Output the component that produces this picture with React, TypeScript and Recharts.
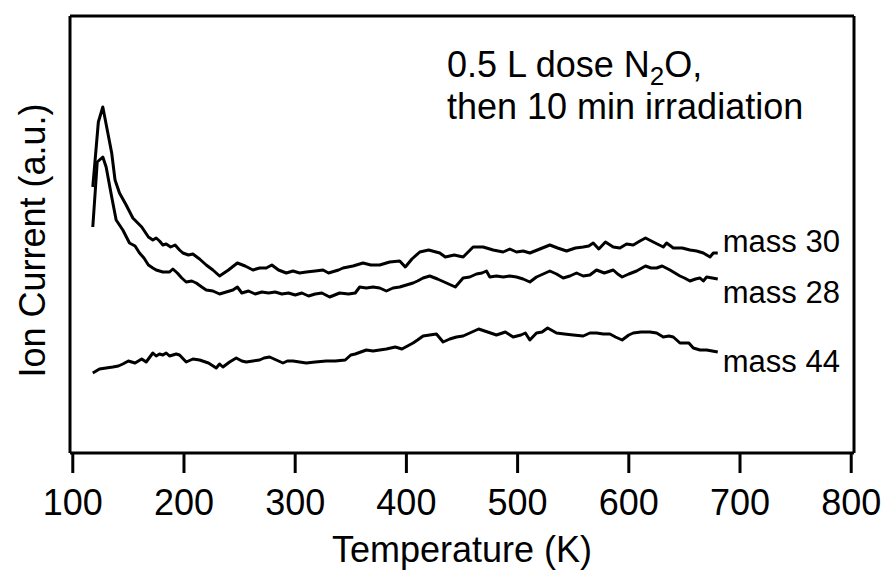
import React from "react";
import { LineChart, Line, XAxis, YAxis, Label } from "recharts";

// values (ion current in arbitrary units)
const mass30Temp = [118, 123, 127, 135, 138, 142, 148, 154, 162, 168, 172, 175, 178, 181, 184, 188, 192, 196, 199, 204, 208, 214, 220, 226, 232, 240, 248, 255, 262, 268, 274, 279, 285, 292, 298, 304, 310, 318, 325, 330, 339, 343, 352, 361, 368, 376, 385, 394, 399, 405, 412, 420, 430, 435, 443, 451, 460, 469, 478, 487, 493, 499, 505, 511, 520, 529, 536, 544, 552, 559, 564, 568, 573, 579, 586, 592, 598, 604, 610, 615, 622, 631, 634, 640, 648, 655, 661, 667, 673, 676, 680];
const mass30Ion = [26.6, 33.1, 34.6, 30.0, 27.3, 26.0, 24.8, 23.5, 22.6, 21.6, 21.3, 21.5, 21.2, 20.8, 20.9, 20.6, 20.8, 20.3, 20.0, 19.8, 19.9, 19.4, 18.8, 18.3, 17.7, 18.3, 19.0, 18.7, 18.3, 18.5, 18.5, 18.8, 18.3, 18.0, 18.2, 18.0, 18.1, 18.2, 18.3, 18.0, 18.3, 18.5, 18.7, 19.0, 18.8, 18.8, 19.1, 19.2, 18.6, 19.4, 20.1, 20.3, 20.0, 19.6, 19.8, 19.6, 20.6, 20.6, 20.3, 20.1, 20.4, 20.1, 20.2, 20.0, 20.4, 20.8, 20.5, 20.2, 20.5, 20.6, 20.7, 21.0, 20.4, 21.1, 20.6, 20.5, 20.9, 20.8, 21.2, 21.5, 21.1, 20.6, 21.0, 20.5, 20.5, 20.3, 20.2, 20.0, 19.6, 20.0, 20.0];

const mass28Temp = [118, 122, 127, 130, 135, 139, 145, 151, 156, 160, 164, 168, 172, 175, 181, 187, 190, 194, 198, 202, 207, 211, 216, 220, 226, 232, 238, 244, 248, 252, 258, 264, 270, 276, 282, 288, 294, 300, 306, 312, 318, 324, 331, 340, 348, 354, 358, 364, 370, 376, 382, 388, 394, 400, 406, 410, 415, 421, 428, 436, 444, 451, 457, 463, 468, 472, 475, 481, 487, 493, 499, 505, 511, 517, 523, 529, 535, 541, 547, 553, 559, 565, 571, 578, 586, 590, 594, 600, 607, 615, 620, 625, 630, 637, 646, 650, 655, 660, 664, 667, 670, 675, 680];
const mass28Ion = [22.6, 29.1, 29.6, 28.6, 25.6, 23.3, 22.3, 21.0, 20.7, 20.0, 19.5, 18.8, 18.5, 18.3, 18.1, 18.1, 18.4, 18.0, 17.5, 17.1, 17.2, 17.0, 16.6, 16.3, 16.2, 15.9, 16.1, 16.3, 16.6, 16.0, 16.2, 15.9, 16.1, 16.0, 16.1, 15.9, 16.0, 15.8, 16.0, 15.7, 15.9, 16.0, 15.6, 16.0, 15.9, 16.0, 16.6, 16.5, 16.6, 16.5, 16.2, 16.5, 16.6, 16.8, 17.0, 17.2, 17.5, 17.7, 17.4, 17.0, 16.6, 17.5, 17.6, 17.9, 18.0, 18.2, 17.6, 17.7, 17.6, 17.7, 17.6, 17.4, 17.1, 17.6, 17.9, 18.2, 17.9, 17.5, 17.7, 18.0, 17.7, 17.8, 18.3, 18.0, 18.3, 17.9, 17.6, 17.9, 18.2, 18.7, 18.5, 18.5, 18.7, 18.3, 17.7, 17.5, 17.2, 17.4, 17.5, 17.2, 17.6, 17.5, 17.4];

const mass44Temp = [118, 124, 130, 136, 141, 145, 150, 156, 162, 166, 172, 175, 178, 181, 184, 187, 190, 193, 196, 202, 208, 214, 222, 229, 232, 235, 241, 247, 252, 256, 262, 268, 272, 277, 283, 289, 293, 298, 304, 310, 318, 328, 336, 345, 350, 354, 359, 364, 370, 376, 382, 390, 396, 401, 406, 410, 415, 421, 427, 433, 439, 445, 451, 457, 465, 473, 481, 489, 496, 503, 507, 511, 517, 522, 527, 535, 542, 550, 559, 565, 571, 577, 583, 588, 594, 600, 604, 611, 619, 625, 631, 636, 640, 646, 650, 654, 658, 664, 670, 675, 680];
const mass44Ion = [8.0, 8.4, 8.5, 8.6, 8.7, 8.9, 9.2, 9.0, 9.4, 9.1, 10.0, 9.7, 9.9, 9.8, 10.0, 9.7, 9.8, 9.9, 9.8, 9.1, 9.4, 9.3, 9.0, 8.5, 8.9, 8.6, 9.1, 9.5, 9.2, 9.1, 9.2, 9.3, 9.5, 9.6, 9.3, 9.0, 9.2, 9.2, 9.1, 9.0, 9.1, 9.2, 9.2, 9.3, 9.8, 9.9, 10.1, 10.3, 10.2, 10.3, 10.4, 10.6, 10.4, 10.7, 11.0, 11.3, 11.7, 11.8, 11.9, 11.1, 11.4, 11.6, 11.7, 12.0, 12.4, 12.1, 11.8, 12.1, 11.6, 11.8, 12.0, 11.3, 12.0, 12.1, 12.5, 12.0, 11.9, 11.8, 11.7, 12.0, 12.0, 11.9, 11.9, 11.6, 11.3, 11.8, 12.0, 12.1, 12.1, 12.0, 11.6, 11.7, 11.6, 11.0, 11.0, 11.0, 10.5, 10.3, 10.3, 10.2, 10.1];

const xTicks = [100, 200, 300, 400, 500, 600, 700, 800];

const toRows = (temps: number[], ions: number[]) =>
  temps.map((t, i) => ({ temp: t, ion: ions[i] }));

const series = [
  { name: "mass 30", data: toRows(mass30Temp, mass30Ion), dy: -1 },
  { name: "mass 28", data: toRows(mass28Temp, mass28Ion), dy: 24 },
  { name: "mass 44", data: toRows(mass44Temp, mass44Ion), dy: 20 },
];

const FONT = "'Liberation Sans', Arial, Helvetica, sans-serif";

const endLabel = (name: string, last: number, dy: number) => (props: any) => {
  if (props.index !== last) return null;
  return (
    <text
      key={name}
      x={props.x + 5}
      y={props.y + dy}
      fontSize={31}
      fontFamily={FONT}
      fill="#000"
    >
      {name}
    </text>
  );
};

export default function App() {
  return (
    <div style={{ position: "absolute", left: 0, top: 0, background: "#fff" }}>
      <LineChart
        width={890}
        height={574}
        margin={{ top: 15, right: 35, left: 69, bottom: 0 }}
      >
        <XAxis
          xAxisId="bottom"
          dataKey="temp"
          type="number"
          domain={[97.5, 802.5]}
          ticks={xTicks}
          allowDuplicatedCategory={false}
          height={121}
          tickSize={20}
          tickMargin={16}
          axisLine={{ stroke: "#000", strokeWidth: 3 }}
          tickLine={{ stroke: "#000", strokeWidth: 3 }}
          tick={{ fill: "#000", fontSize: 36, fontFamily: FONT }}
        >
          <Label
            value="Temperature (K)"
            position="insideBottom"
            offset={12}
            fill="#000"
            fontSize={36}
            fontFamily={FONT}
          />
        </XAxis>
        <XAxis
          xAxisId="top"
          orientation="top"
          type="number"
          domain={[97.5, 802.5]}
          height={1}
          tick={false}
          tickLine={false}
          axisLine={{ stroke: "#000", strokeWidth: 3 }}
        />
        <YAxis
          yAxisId="left"
          type="number"
          domain={[0, 43.7]}
          width={1}
          tick={false}
          tickLine={false}
          axisLine={{ stroke: "#000", strokeWidth: 3 }}
        >
          <Label
            content={({ viewBox }: any) => {
              const cx = viewBox.x - 37;
              const cy = viewBox.y + viewBox.height / 2 + 6;
              return (
                <text
                  x={cx}
                  y={cy}
                  transform={`rotate(-90 ${cx} ${cy})`}
                  textAnchor="middle"
                  dominantBaseline="central"
                  fontSize={36}
                  fontFamily={FONT}
                  fill="#000"
                >
                  Ion Current (a.u.)
                </text>
              );
            }}
          />
        </YAxis>
        <YAxis
          yAxisId="right"
          orientation="right"
          type="number"
          domain={[0, 43.7]}
          width={1}
          tick={false}
          tickLine={false}
          axisLine={{ stroke: "#000", strokeWidth: 3 }}
        />
        {series.map((s) => (
          <Line
            key={s.name}
            xAxisId="bottom"
            yAxisId="left"
            data={s.data}
            dataKey="ion"
            type="linear"
            stroke="#000"
            strokeWidth={3}
            strokeLinejoin="round"
            dot={false}
            activeDot={false}
            isAnimationActive={false}
            label={endLabel(s.name, s.data.length - 1, s.dy)}
          />
        ))}
      </LineChart>
      <div
        style={{
          position: "absolute",
          left: 447,
          top: 44,
          fontFamily: FONT,
          fontSize: 36,
          lineHeight: "42px",
          color: "#000",
          whiteSpace: "nowrap",
        }}
      >
        0.5 L dose N<sub style={{ fontSize: 26, verticalAlign: "-8px", lineHeight: 0 }}>2</sub>O,
        <br />
        then 10 min irradiation
      </div>
    </div>
  );
}
